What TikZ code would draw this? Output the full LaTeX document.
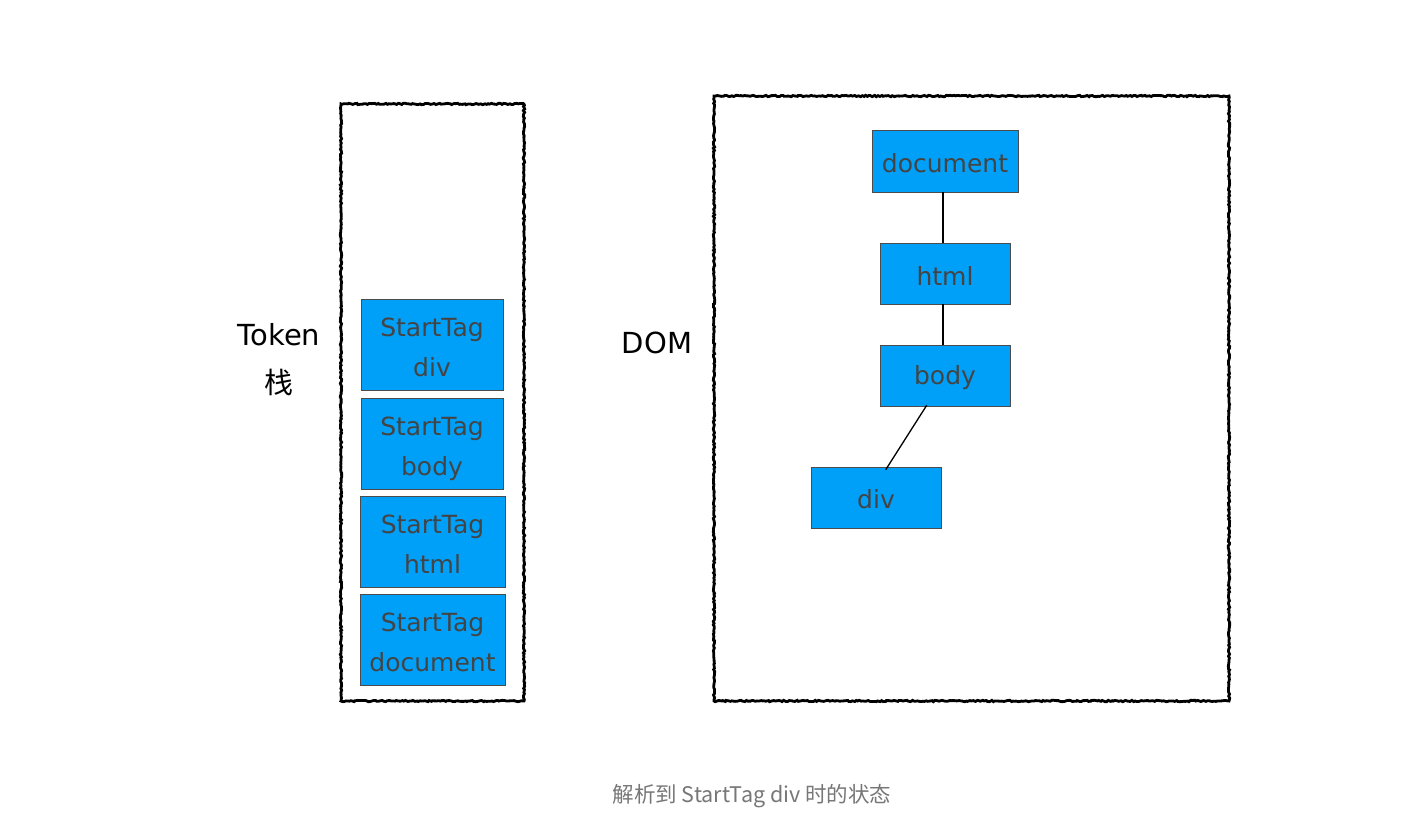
\documentclass[tikz,border=0pt]{standalone}
\usepackage{fontspec}
\setmainfont{DejaVu Sans}
\newfontfamily\cjk{Noto Sans CJK SC}
\usetikzlibrary{decorations.pathmorphing,calc}
\definecolor{boxblue}{HTML}{00A0F8}
\definecolor{boxtext}{HTML}{444444}
\definecolor{captiongray}{HTML}{777777}
\newcommand{\twoline}[2]{\raisebox{0pt}[\dimexpr\height+8pt\relax][\depth]{\begin{tabular}{@{}c@{}}#1\\#2\end{tabular}}}
\newcommand{\lowtxt}[1]{\raisebox{0pt}[\dimexpr\height+4pt\relax][\depth]{#1}}
\tikzset{
  frame/.style={draw=black,line width=2.8pt,decorate,decoration={random steps,segment length=1.8pt,amplitude=0.7pt}},
  tokbox/.style={draw=black!70,line width=0.6pt,fill=boxblue,text=boxtext,align=center,font=\fontsize{25}{40}\selectfont,inner sep=0pt},
  dombox/.style={draw=black!70,line width=0.6pt,fill=boxblue,text=boxtext,font=\fontsize{25}{30}\selectfont,inner sep=0pt},
  lbl/.style={text=black,font=\fontsize{29}{48}\selectfont,align=center},
  link/.style={draw=black,line width=1.3pt},
}
\begin{document}
\begin{tikzpicture}[x=1pt,y=-1pt]
\useasboundingbox[fill=white] (0,0) rectangle (1421,828);
% frames
\draw[frame] (341,104) rectangle (524,701);
\draw[frame] (714,96) rectangle (1229,701);
% token stack
\node[tokbox,minimum width=142pt,minimum height=91pt] (tdiv) at (432,344.5) {\twoline{StartTag}{div}};
\node[tokbox,minimum width=142pt,minimum height=91pt] (tbody) at (432,443.5) {\twoline{StartTag}{body}};
\node[tokbox,minimum width=145pt,minimum height=91pt] (thtml) at (432.5,541.5) {\twoline{StartTag}{html}};
\node[tokbox,minimum width=145pt,minimum height=91pt] (tdoc) at (432.5,639.5) {\twoline{StartTag}{document}};
% labels
\node[lbl] (token) at (279,360) {Token\\{\cjk 栈}};
\node[lbl] (dom) at (657,343) {DOM};
% DOM tree
\node[dombox,minimum width=146pt,minimum height=62pt] (document) at (945,161) {\lowtxt{document}};
\node[dombox,minimum width=130pt,minimum height=61pt] (html) at (945,273.5) {\lowtxt{html}};
\node[dombox,minimum width=130pt,minimum height=61pt] (body) at (945,375.5) {\lowtxt{body}};
\node[dombox,minimum width=130pt,minimum height=61pt] (div) at (876,497.5) {\lowtxt{div}};
\draw[link] ([xshift=-2pt]document.south) -- ([xshift=-2pt]html.north);
\draw[link] ([xshift=-2pt]html.south) -- ([xshift=-2pt]body.north);
\draw[link] ([xshift=47pt,yshift=1pt]body.south west) -- ([xshift=75pt,yshift=-3pt]div.north west);
% caption
\node[text=captiongray,font=\fontsize{21.5}{26}\selectfont\cjk] (caption) at (752,796) {解析到 StartTag div 时的状态};
\end{tikzpicture}
\end{document}
